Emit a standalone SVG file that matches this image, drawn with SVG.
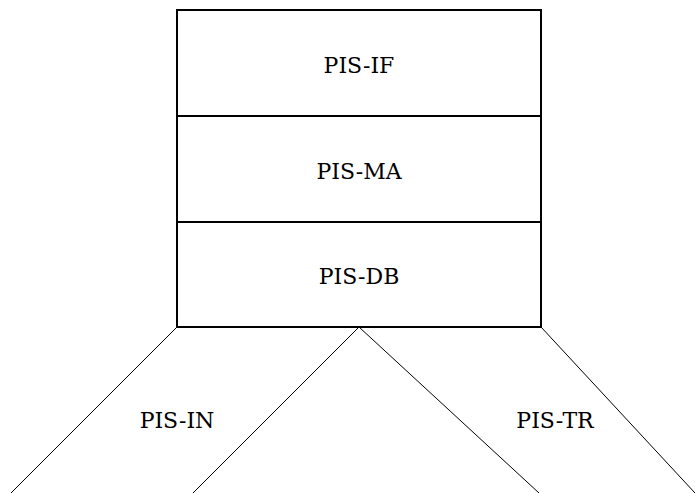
<svg xmlns="http://www.w3.org/2000/svg" width="695" height="493" viewBox="0 0 695 493">
<style>
.box{fill:#fff;stroke:#000;stroke-width:2}
.ln{stroke:#000;stroke-width:1;fill:none}
.t{font-family:'DejaVu Serif',serif;font-size:22px;fill:#000;text-anchor:middle}
</style>
<rect width="695" height="493" fill="#fff"/>
<g id="connectors">
<line class="ln" x1="177" y1="327" x2="11" y2="493"/>
<line class="ln" x1="359" y1="327" x2="193" y2="493"/>
<line class="ln" x1="359" y1="327" x2="539" y2="493"/>
<line class="ln" x1="541" y1="327" x2="695" y2="493"/>
</g>
<g id="pis-if"><rect class="box" x="177" y="10" width="364" height="106"/><text class="t" x="359" y="73">PIS-IF</text></g>
<g id="pis-ma"><rect class="box" x="177" y="116" width="364" height="106"/><text class="t" x="359" y="179">PIS-MA</text></g>
<g id="pis-db"><rect class="box" x="177" y="222" width="364" height="105"/><text class="t" x="359" y="284">PIS-DB</text></g>
<g id="pis-in"><text class="t" x="177" y="428">PIS-IN</text></g>
<g id="pis-tr"><text class="t" x="555" y="428">PIS-TR</text></g>
</svg>
